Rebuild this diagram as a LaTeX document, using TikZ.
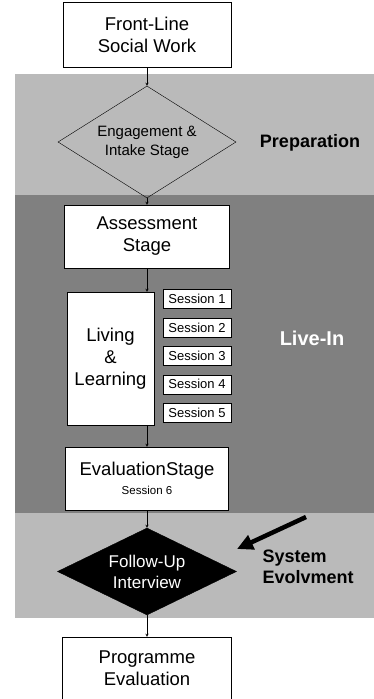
\documentclass[tikz,border=0pt]{standalone}
\usepackage{fontspec}
\setmainfont{Liberation Sans}
\usetikzlibrary{shapes.geometric, arrows, arrows.meta, positioning}

\begin{document}
\begin{tikzpicture}[
    x=1pt, y=-1pt,
    >=stealth,
    box/.style={rectangle, draw, fill=white, align=center, inner sep=0pt, font=\fontsize{18.5}{22}\selectfont},
    sessbox/.style={rectangle, draw, fill=white, minimum width=68pt, minimum height=19pt, inner sep=0pt, font=\fontsize{13}{14}\selectfont},
    decision/.style={diamond, draw, align=center, inner sep=0pt},
    zone/.style={font=\bfseries\fontsize{18}{21}\selectfont, align=left}
]

\useasboundingbox (0,0) rectangle (374,699);

% shaded phases
\fill[black!27] (15,74) rectangle (374,195);
\fill[black!50] (15,195) rectangle (374,513);
\fill[black!27] (15,513) rectangle (374,618);

\node[box, minimum width=168pt, minimum height=65pt] (frontline) at (147,35) {Front-Line\\Social Work};
\node[decision, minimum width=178pt, minimum height=112pt, shape aspect=1.6, font=\fontsize{15}{19}\selectfont] (intake) at (147,142) {Engagement \&\\Intake Stage};
\node[box, minimum width=165pt, minimum height=63pt] (assess) at (147,236.5) {Assessment\\Stage};
\node[box, minimum width=87pt, minimum height=133pt] (living) at (110.5,358.5) {Living\\\&\\Learning};
\foreach \i in {1,...,5}
    \node[sessbox] (session\i) at (197,{299+28.4*(\i-1)}) {Session \i};
\node[box, minimum width=163pt, minimum height=63pt] (eval) at (147,478.5) {EvaluationStage\\[-3pt]{\fontsize{11.5}{13}\selectfont Session 6}};
\node[decision, fill=black, text=white, minimum width=179pt, minimum height=87pt, shape aspect=2, font=\fontsize{17}{21}\selectfont] (followup) at (147,571.5) {Follow-Up\\Interview};
\node[box, minimum width=169pt, minimum height=62pt] (progeval) at (147,668) {Programme\\Evaluation};

% phase labels
\node[zone] (prep) at (310,143) {Preparation};
\node[zone, text=white, font=\bfseries\fontsize{20}{22}\selectfont] (livein) at (312,338) {Live-In};
\node[zone, anchor=west] (evolvtext) at (259,567) {System\\Evolvment};

\draw[->] (frontline) -- (intake);
\draw[->] (intake) -- (assess);
\draw[->] (assess.south) -- (assess.south |- living.north);
\draw[->] (eval.north |- living.south) -- (eval.north);
\draw[->] (eval) -- (followup);
\draw[->] (followup) -- (progeval);

\coordinate (evolvtail) at (306,517);
\coordinate (evolvhead) at (237,549);
\draw[line width=4.5pt, -{Triangle[length=16pt,width=15pt]}] (evolvtail) -- (evolvhead);

\end{tikzpicture}
\end{document}
